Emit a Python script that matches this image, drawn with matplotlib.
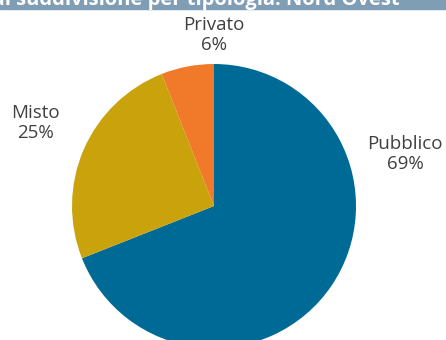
import matplotlib.pyplot as plt
from matplotlib.patches import Rectangle

labels = ['Pubblico', 'Misto', 'Privato']
shares = [69, 25, 6]
colors = ['#006a96', '#c9a20c', '#f07a2a']

# label anchor points in pixel space (y measured from the bottom)
label_pos = [(405, 186), (35, 217), (214, 305)]

fig = plt.figure(figsize=(4.46, 3.40), dpi=100)
ax = fig.add_axes([0, 0, 1, 1])

ax.pie(shares, colors=colors, startangle=90, counterclock=False,
       center=(214, 134), radius=142, frame=True)
ax.set_xlim(0, 446)
ax.set_ylim(0, 340)
ax.set_aspect('equal')
ax.axis('off')

for lab, val, (x, y) in zip(labels, shares, label_pos):
    ax.text(x, y, f'{lab}\n{val}%', ha='center', va='center',
            fontsize=13.5, color='#404040', family='Open Sans',
            linespacing=1.1)

# header band, partly cut off at the top edge
fig.patches.append(Rectangle((0, 331 / 340), 1, 9 / 340, transform=fig.transFigure,
                             color='#7f9db5', zorder=0))
fig.text(0.44, 1.0, 'di suddivisione per tipologia: Nord Ovest', ha='center',
         va='center', color='white', fontsize=14.5, fontweight='bold',
         family='Open Sans')

fig.savefig('out.png', dpi=100)
